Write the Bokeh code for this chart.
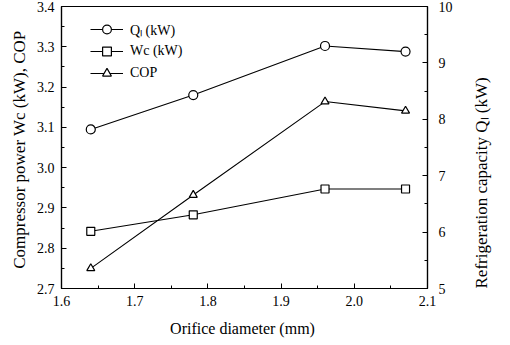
import math
from bokeh.plotting import figure
from bokeh.models import Range1d, LinearAxis, FixedTicker, PrintfTickFormatter, Legend, LegendItem
from bokeh.embed import file_html
from bokeh.resources import INLINE

diameter = [1.64, 1.78, 1.96, 2.07]
q_l = [7.82, 8.43, 9.30, 9.20]
wc = [2.842, 2.883, 2.947, 2.947]
cop = [2.750, 2.932, 3.164, 3.141]

x_ticks = [1.6, 1.7, 1.8, 1.9, 2.0, 2.1]
x_minor = [1.65, 1.75, 1.85, 1.95, 2.05]
y_ticks = [2.7, 2.8, 2.9, 3.0, 3.1, 3.2, 3.3, 3.4]
y_minor = [2.75, 2.85, 2.95, 3.05, 3.15, 3.25, 3.35]
q_ticks = [5, 6, 7, 8, 9, 10]
q_minor = [5.5, 6.5, 7.5, 8.5, 9.5]

FONT = "Liberation Serif"

p = figure(frame_width=366, frame_height=282, output_backend="svg", toolbar_location=None,
           x_range=Range1d(1.6, 2.1), y_range=Range1d(2.7, 3.4),
           min_border_left=61, min_border_right=67, min_border_top=6, min_border_bottom=41)
p.extra_y_ranges = {"q": Range1d(5, 10)}
p.grid.visible = False
p.outline_line_color = "black"
p.outline_line_width = 1.2

def style(ax):
    ax.major_tick_in = 5
    ax.major_tick_out = 0
    ax.minor_tick_in = 3
    ax.minor_tick_out = 0
    ax.axis_line_width = 1.2
    ax.major_tick_line_color = "black"
    ax.minor_tick_line_color = "black"
    ax.axis_line_color = "black"
    ax.major_label_text_font = FONT
    ax.major_label_text_font_size = "14px"
    ax.major_label_text_color = "black"
    ax.axis_label_text_font = FONT
    ax.axis_label_text_font_size = "16px"
    ax.axis_label_text_color = "black"
    ax.axis_label_text_font_style = "normal"
    ax.major_label_standoff = 7

p.xaxis.ticker = FixedTicker(ticks=x_ticks, minor_ticks=x_minor)
p.xaxis.formatter = PrintfTickFormatter(format="%.1f")
p.xaxis.axis_label = "Orifice diameter  (mm)"
p.yaxis.ticker = FixedTicker(ticks=y_ticks, minor_ticks=y_minor)
p.yaxis.formatter = PrintfTickFormatter(format="%.1f")
p.yaxis.axis_label = "Compressor power Wc (kW),  COP"
style(p.xaxis[0])
style(p.yaxis[0])
p.yaxis[0].axis_label_text_font_size = "17px"
p.xaxis[0].axis_label_standoff = 11
p.yaxis[0].axis_label_standoff = 5

rax = LinearAxis(y_range_name="q", ticker=FixedTicker(ticks=q_ticks, minor_ticks=q_minor),
                 axis_label="Refrigeration capacity Q\u2097  (kW)")
style(rax)
rax.axis_label_text_font_size = "17px"
rax.major_label_standoff = 11
rax.axis_label_standoff = 26
rax.axis_label_orientation = math.pi / 2
rax.axis_label_align = "start"
p.add_layout(rax, "right")

l1 = p.line(diameter, q_l, y_range_name="q", line_color="black", line_width=1.1)
m1 = p.scatter(diameter, q_l, y_range_name="q", marker="circle", size=9,
               line_color="black", fill_color="white", line_width=1.2)
l2 = p.line(diameter, wc, line_color="black", line_width=1.1)
m2 = p.scatter(diameter, wc, marker="square", size=8,
               line_color="black", fill_color="white", line_width=1.2)
l3 = p.line(diameter, cop, line_color="black", line_width=1.1)
m3 = p.scatter(diameter, cop, marker="triangle", size=8,
               line_color="black", fill_color="white", line_width=1.2)

legend = Legend(items=[
    LegendItem(label="Q\u2097 (kW)", renderers=[l1, m1]),
    LegendItem(label="Wc (kW)", renderers=[l2, m2]),
    LegendItem(label="COP", renderers=[l3, m3]),
], location=(29, 204))
legend.border_line_color = None
legend.background_fill_alpha = 0
legend.label_text_font = FONT
legend.label_text_font_size = "14px"
legend.label_text_color = "black"
legend.glyph_width = 33
legend.glyph_height = 22
legend.label_height = 22
legend.label_standoff = 7
legend.spacing = 0
legend.padding = 2
legend.margin = 0
p.add_layout(legend)

open("out.html", "w").write(file_html(p, INLINE))
